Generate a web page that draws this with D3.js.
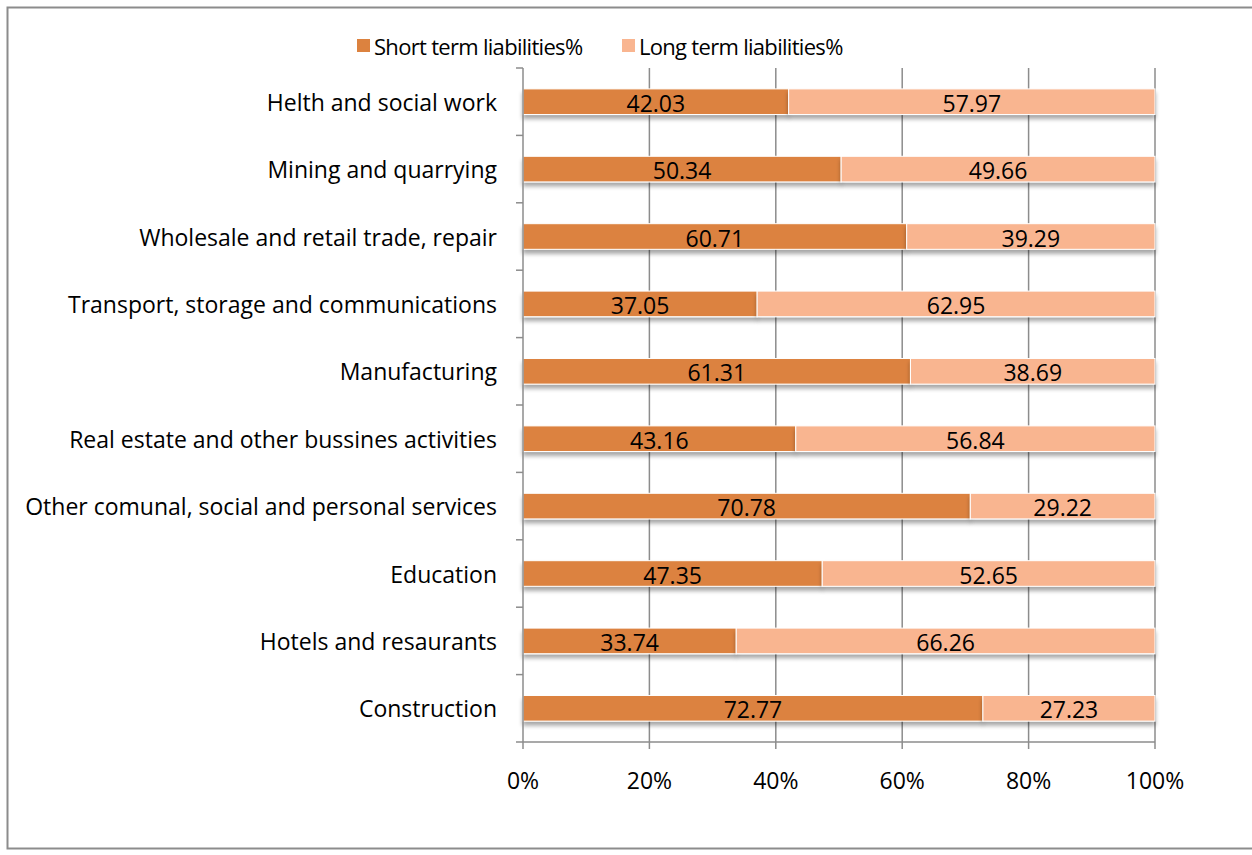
<!DOCTYPE html>
<html>
<head>
<meta charset="utf-8">
<script src="https://cdn.jsdelivr.net/npm/d3@7"></script>
<style>
  html, body { margin: 0; padding: 0; background: #fff; }
  svg { display: block; }
  text { font-family: "Open Sans", Lato, sans-serif; fill: #000; font-variant-ligatures: none; }
</style>
</head>
<body>
<svg id="chart" width="1252" height="855"></svg>
<script>
// Sectors, listed top to bottom
const categories = [
  "Helth and social work",
  "Mining and quarrying",
  "Wholesale and retail trade, repair",
  "Transport, storage and communications",
  "Manufacturing",
  "Real estate and other bussines activities",
  "Other comunal, social and personal services",
  "Education",
  "Hotels and resaurants",
  "Construction"
];
const shortTerm = [42.03, 50.34, 60.71, 37.05, 61.31, 43.16, 70.78, 47.35, 33.74, 72.77];
const longTerm  = [57.97, 49.66, 39.29, 62.95, 38.69, 56.84, 29.22, 52.65, 66.26, 27.23];
const seriesNames = ["Short term liabilities%", "Long term liabilities%"];
const xTicks = [0, 20, 40, 60, 80, 100];

const colors = ["#dc823f", "#f9b590"];
const FS = 23;   // axis and value labels
const LFS = 22;  // legend

const svg = d3.select("#chart");
const margin = { left: 523, right: 97, top: 68, bottom: 113 };
const W = 1252, H = 855;

const defs = svg.append("defs");
const f = defs.append("filter").attr("id", "shadow").attr("x", "-5%").attr("y", "-20%").attr("width", "110%").attr("height", "160%");
f.append("feGaussianBlur").attr("in", "SourceAlpha").attr("stdDeviation", 2).attr("result", "b");
f.append("feOffset").attr("in", "b").attr("dy", 4).attr("result", "o");
f.append("feComponentTransfer").attr("in", "o").attr("result", "c")
  .append("feFuncA").attr("type", "linear").attr("slope", 0.35);
const m = f.append("feMerge");
m.append("feMergeNode").attr("in", "c");
m.append("feMergeNode").attr("in", "SourceGraphic");

// outer frame
svg.append("rect").attr("x", 7.5).attr("y", 7.5).attr("width", 1260).attr("height", 841)
  .attr("fill", "#fff").attr("stroke", "#8c8c8c").attr("stroke-width", 2);

const x = d3.scaleLinear().domain([0, 100]).range([margin.left, W - margin.right]);
const y = d3.scaleBand().domain(categories).range([margin.top, H - margin.bottom]).paddingInner(0.62).paddingOuter(0.31);
const yEdges = d3.scaleBand().domain(categories).range([margin.top, H - margin.bottom]);

// vertical gridlines
svg.append("g").selectAll("line").data(xTicks.slice(1)).join("line")
  .attr("x1", d => x(d)).attr("x2", d => x(d))
  .attr("y1", margin.top).attr("y2", H - margin.bottom)
  .attr("stroke", "#8c8c8c").attr("stroke-width", 1.5);

// stacked bars
const rows = categories.map((c, i) => ({ c, vals: [shortTerm[i], longTerm[i]] }));
const bars = svg.append("g");
rows.forEach(r => {
  let acc = 0;
  r.vals.forEach((v, k) => {
    const x0 = acc, x1 = acc + v;
    bars.append("rect")
      .attr("x", x(x0)).attr("width", x(x1) - x(x0))
      .attr("y", y(r.c)).attr("height", y.bandwidth())
      .attr("fill", colors[k]).attr("stroke", "#fff").attr("stroke-width", 1)
      .attr("filter", "url(#shadow)");
    acc = x1;
  });
});
// value labels
rows.forEach(r => {
  let acc = 0;
  r.vals.forEach((v, k) => {
    svg.append("text")
      .attr("x", x(acc + v / 2)).attr("y", y(r.c) + y.bandwidth() / 2 + 1)
      .attr("text-anchor", "middle").attr("dominant-baseline", "central")
      .attr("font-size", FS).text(v.toFixed(2));
    acc += v;
  });
});

// y axis
const yAxis = svg.append("g");
yAxis.append("line").attr("x1", margin.left).attr("x2", margin.left)
  .attr("y1", margin.top).attr("y2", H - margin.bottom)
  .attr("stroke", "#8c8c8c").attr("stroke-width", 1.5);
const edges = categories.map(c => yEdges(c)).concat([H - margin.bottom]);
yAxis.selectAll("line.t").data(edges).join("line").attr("class", "t")
  .attr("x1", margin.left - 7).attr("x2", margin.left)
  .attr("y1", d => d).attr("y2", d => d)
  .attr("stroke", "#8c8c8c").attr("stroke-width", 1.5);
yAxis.selectAll("text").data(categories).join("text")
  .attr("x", margin.left - 26).attr("y", d => y(d) + y.bandwidth() / 2)
  .attr("text-anchor", "end").attr("dominant-baseline", "central")
  .attr("font-size", FS).text(d => d);

// x axis
const xAxis = svg.append("g");
xAxis.append("line").attr("x1", margin.left).attr("x2", x(100))
  .attr("y1", H - margin.bottom).attr("y2", H - margin.bottom)
  .attr("stroke", "#8c8c8c").attr("stroke-width", 1.5);
xAxis.selectAll("line.t").data(xTicks).join("line").attr("class", "t")
  .attr("x1", d => x(d)).attr("x2", d => x(d))
  .attr("y1", H - margin.bottom).attr("y2", H - margin.bottom + 7)
  .attr("stroke", "#8c8c8c").attr("stroke-width", 1.5);
xAxis.selectAll("text").data(xTicks).join("text")
  .attr("x", d => x(d)).attr("y", H - margin.bottom + 38)
  .attr("text-anchor", "middle").attr("dominant-baseline", "central")
  .attr("font-size", FS).text(d => d + "%");

// legend
const legendX = [357, 622];
const lg = svg.append("g");
seriesNames.forEach((n, k) => {
  lg.append("rect").attr("x", legendX[k]).attr("y", 39).attr("width", 13).attr("height", 13).attr("fill", colors[k]);
  lg.append("text").attr("x", legendX[k] + 17).attr("y", 46).attr("dominant-baseline", "central")
    .attr("font-size", LFS).attr("letter-spacing", -0.7).text(n);
});
</script>
</body>
</html>
